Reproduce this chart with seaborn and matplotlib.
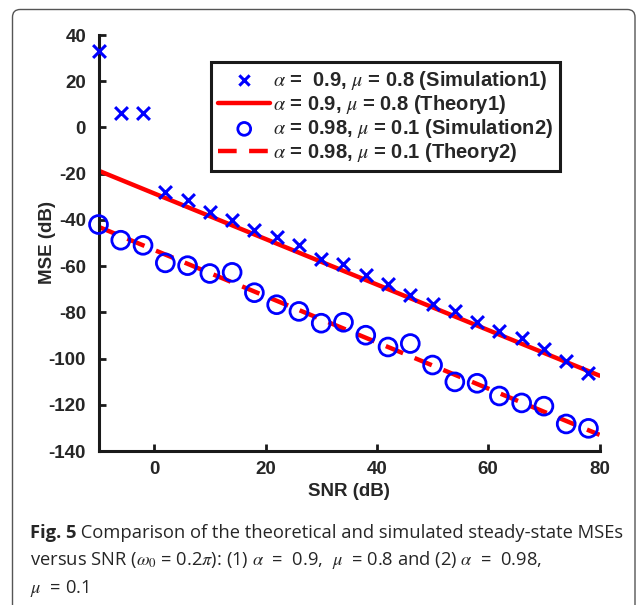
import numpy as np
import pandas as pd
import matplotlib
matplotlib.use("Agg")
import matplotlib.pyplot as plt
import seaborn as sns
from matplotlib.patches import FancyBboxPatch

# ---------------- data ----------------
snr_sim = [-10, -6, -2, 2, 6, 10, 14, 18, 22, 26, 30, 34, 38, 42, 46, 50, 54, 58, 62, 66, 70, 74, 78]
mse_sim1 = [33.2, 6.1, 6.1, -27.8, -31.5, -36.5, -40.0, -44.5, -47.5, -51.0, -57.0, -59.2,
            -63.8, -67.6, -72.6, -76.4, -79.3, -84.3, -88.1, -91.0, -96.0, -100.9, -106.3]
mse_sim2 = [-42.0, -48.8, -51.0, -58.6, -59.8, -63.2, -62.7, -71.5, -76.7, -79.6, -84.7, -84.3,
            -89.9, -95.0, -93.5, -102.8, -110.1, -110.7, -116.2, -119.2, -120.6, -128.3, -130.2]
snr_theory = [-10, 80]
mse_theory1 = [-18.7, -107.4]
mse_theory2 = [-43.0, -133.0]

labels = [r"$\alpha$ =  0.9, $\mu$ = 0.8 (Simulation1)",
          r"$\alpha$ = 0.9, $\mu$ = 0.8 (Theory1)",
          r"$\alpha$ = 0.98, $\mu$ = 0.1 (Simulation2)",
          r"$\alpha$ = 0.98, $\mu$ = 0.1 (Theory2)"]
xticks = [0, 20, 40, 60, 80]
yticks = [-140, -120, -100, -80, -60, -40, -20, 0, 20, 40]

sim_df = pd.DataFrame({"snr": snr_sim, "sim1": mse_sim1, "sim2": mse_sim2})
th_df = pd.DataFrame({"snr": snr_theory, "th1": mse_theory1, "th2": mse_theory2})

# ---------------- style ----------------
sns.set_style("ticks")
plt.rcParams["font.family"] = ["Liberation Sans", "DejaVu Sans"]
plt.rcParams["axes.unicode_minus"] = False
plt.rcParams["mathtext.fontset"] = "stix"

W, H = 637, 605
fig = plt.figure(figsize=(W / 100, H / 100), dpi=100)
ax = fig.add_axes([98.5 / W, 1 - 451 / H, (599.6 - 98.5) / W, (451 - 35) / H])

BLUE = "#0000ff"
RED = "#ff0000"

sns.lineplot(data=th_df, x="snr", y="th1", ax=ax, color=RED, linewidth=3.2,
             label=labels[1], zorder=2)
sns.lineplot(data=th_df, x="snr", y="th2", ax=ax, color=RED, linewidth=3.2,
             linestyle=(0, (4.2, 2.8)), label=labels[3], zorder=2)
sns.scatterplot(data=sim_df, x="snr", y="sim1", ax=ax, marker="x", s=85,
                color=BLUE, linewidth=2.2, label=labels[0], zorder=3, clip_on=False)
sns.scatterplot(data=sim_df, x="snr", y="sim2", ax=ax, marker="o", s=165,
                facecolor="none", edgecolor=BLUE, linewidth=2.0, label=labels[2], zorder=3,
                clip_on=False)

ax.set_xlim(-10, 80)
ax.set_ylim(-140, 40)
ax.set_xticks(xticks)
ax.set_yticks(yticks)
ax.set_xticklabels([str(v) for v in xticks])
ax.set_yticklabels([str(v) for v in yticks])
sns.despine(ax=ax)
for sp in ["left", "bottom"]:
    ax.spines[sp].set_linewidth(2.2)
    ax.spines[sp].set_color("#1a1a1a")
ax.tick_params(direction="in", length=5, width=2, color="#1a1a1a", labelsize=13.5)
ax.tick_params(axis="y", pad=9)
ax.tick_params(axis="x", pad=7)
for t in ax.get_xticklabels() + ax.get_yticklabels():
    t.set_fontweight("bold")
ax.set_xlabel("SNR (dB)", fontsize=13.5, fontweight="bold")
ax.set_ylabel("MSE (dB)", fontsize=13.5, fontweight="bold")
ax.yaxis.set_label_coords((47 - 98.5) / 501.1, 0.5)
ax.xaxis.set_label_coords(0.5, (451 - 492) / 416.0)
ax.xaxis.label.set_va("center")
ax.yaxis.label.set_va("center")

handles, labs = ax.get_legend_handles_labels()
order = [labs.index(l) for l in labels]
leg = ax.legend([handles[i] for i in order], [labs[i] for i in order],
                loc="upper left", bbox_to_anchor=(211 / W, 1 - 61.7 / H),
                bbox_transform=fig.transFigure, borderaxespad=0,
                fancybox=False, framealpha=1, edgecolor="#1a1a1a",
                prop={"weight": "bold", "size": 14.5}, handlelength=2.6,
                handletextpad=0.12, labelspacing=0.06, borderpad=0.35)
leg.get_frame().set_linewidth(2.2)
leg.set_zorder(5)
lh = leg.legend_handles
lh[0].set_sizes([55])
lh[2].set_sizes([85])

# ---------------- caption ----------------
cap_family = ["Open Sans", "DejaVu Sans"]
line1_rest = " Comparison of the theoretical and simulated steady-state MSEs"
line2 = r"versus SNR ($\omega_0$ = 0.2$\pi$): (1) $\alpha$  =  0.9,  $\mu$  = 0.8 and (2) $\alpha$  =  0.98,"
line3 = r"$\mu$  = 0.1"

renderer = fig.canvas.get_renderer()
size0 = 13
t_b = fig.text(30 / W, 1 - 538 / H, "Fig. 5", family=cap_family, weight="bold",
               fontsize=size0, va="baseline", ha="left")
t_r = fig.text(0, 1 - 538 / H, line1_rest, family=cap_family, fontsize=size0,
               va="baseline", ha="left")
wb = t_b.get_window_extent(renderer).width
wr = t_r.get_window_extent(renderer).width
scale = 590.0 / (wb + wr)
size = size0 * scale
t_b.set_fontsize(size)
t_r.set_fontsize(size)
wb = t_b.get_window_extent(renderer).width
t_r.set_x((30 + wb) / W)
fig.text(30 / W, 1 - 565 / H, line2, family=cap_family, fontsize=size,
         va="baseline", ha="left", math_fontfamily="stix")
fig.text(30 / W, 1 - 593 / H, line3, family=cap_family, fontsize=size,
         va="baseline", ha="left", math_fontfamily="stix")

# ---------------- frame ----------------
frame = FancyBboxPatch((12.5 / W, -0.05), (635 - 12.5) / W, 1.05 - 9.5 / H,
                       boxstyle="round,pad=0,rounding_size=0.012",
                       mutation_aspect=W / H,
                       transform=fig.transFigure, fill=False,
                       edgecolor="#555555", linewidth=1.0)
fig.patches.append(frame)

fig.savefig("out.png", dpi=100)
